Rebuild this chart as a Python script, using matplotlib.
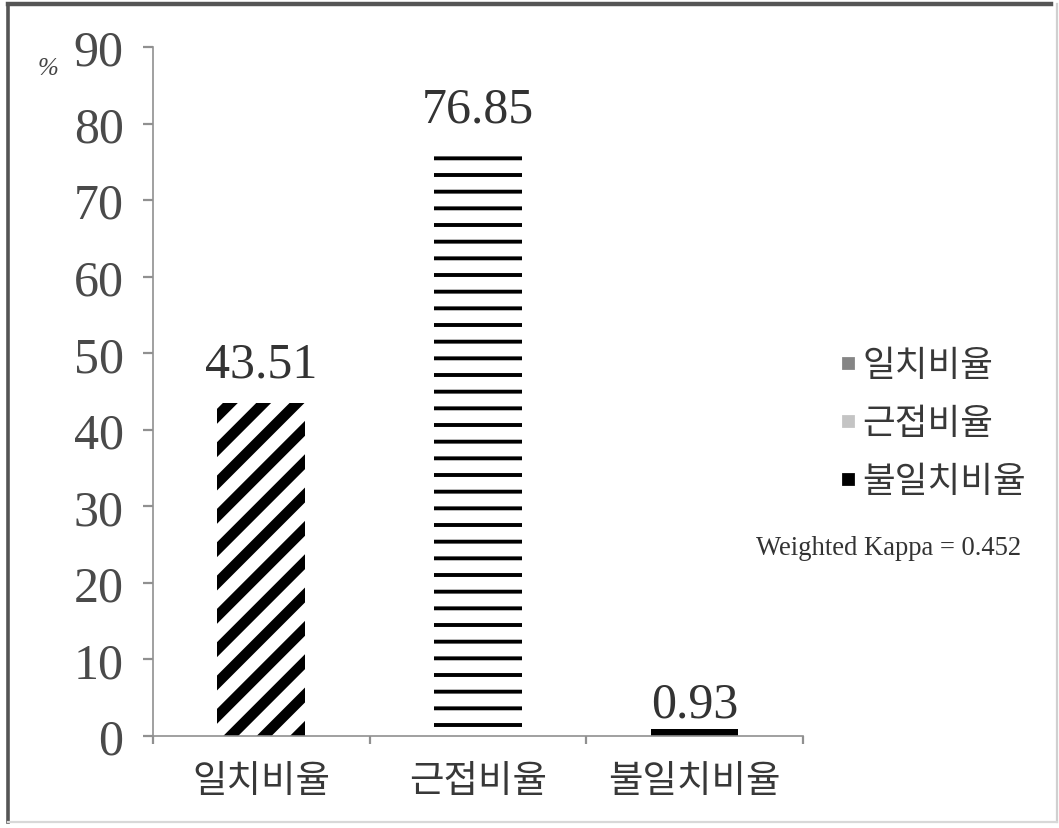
import matplotlib
matplotlib.use('Agg')
import matplotlib.pyplot as plt
from matplotlib.lines import Line2D

# 데이터
categories = ['일치비율', '근접비율', '불일치비율']
values = [43.51, 76.85, 0.93]
value_labels = ['43.51', '76.85', '0.93']
y_ticks = [0, 10, 20, 30, 40, 50, 60, 70, 80, 90]
legend_colors = ['#858585', '#c4c4c4', '#000000']
kappa_text = 'Weighted Kappa = 0.452'

kor = ['Noto Sans CJK KR', 'DejaVu Sans']
serif = ['Liberation Serif', 'DejaVu Serif']

fig = plt.figure(figsize=(1059 / 200, 829 / 200), dpi=200)
ax = fig.add_axes([0.1445, 0.111, 0.6135, 0.831])

hatches = ['//', '--', '']
hatch_lw = [3.8, 1.4, 1.0]
faces = ['white', 'white', 'black']
x = list(range(len(categories)))
for i in x:
    with plt.rc_context({'hatch.linewidth': hatch_lw[i]}):
        b = ax.bar(x[i], values[i], width=0.405, color=faces[i],
                   edgecolor='black', linewidth=0, hatch=hatches[i])
        for p in b:
            if hasattr(p, 'set_hatch_linewidth'):
                p.set_hatch_linewidth(hatch_lw[i])

label_pad = [5.5, 5.5, 0.5]
for i in x:
    ax.annotate(value_labels[i], (x[i], values[i]), xytext=(0, label_pad[i]),
                textcoords='offset points', ha='center', va='bottom',
                fontsize=18, family=serif, color='#333333')

ax.set_xlim(-0.5, 2.5)
ax.set_ylim(0, 90)
ax.set_yticks(y_ticks)
ax.set_yticklabels([str(t) for t in y_ticks], family=serif, fontsize=18,
                   color='#4a4a4a')
ax.set_xticks([-0.5, 0.5, 1.5, 2.5])
ax.set_xticklabels([])
ax.set_xticks(x, minor=True)
ax.set_xticklabels(categories, minor=True, family=kor, fontsize=13.5,
                   color='#383838')
ax.tick_params(axis='x', which='minor', length=0, pad=9)
ax.tick_params(axis='x', which='major', length=3.0, color='#909090')
ax.tick_params(axis='y', length=3.6, color='#909090', pad=7)

for s in ['top', 'right']:
    ax.spines[s].set_visible(False)
for s in ['left', 'bottom']:
    ax.spines[s].set_color('#909090')
    ax.spines[s].set_linewidth(0.6)

fig.text(0.045, 0.917, '%', family=serif, fontsize=9, color='#444444',
         ha='center', va='center', style='italic')

handles = [Line2D([], [], marker='s', linestyle='none', markersize=3.4,
                  markerfacecolor=c, markeredgecolor=c) for c in legend_colors]
leg = fig.legend(handles, categories, loc='center left',
                 bbox_to_anchor=(0.779, 0.488), frameon=False,
                 prop={'family': kor, 'size': 12.8}, handlelength=0.5,
                 handletextpad=0.15, labelspacing=0.62, borderaxespad=0)
for t in leg.get_texts():
    t.set_color('#383838')

fig.text(0.964, 0.338, kappa_text, family=serif, fontsize=9.6, color='#333333',
         ha='right', va='center')

# 바깥 테두리
fig.add_artist(Line2D([0.0075, 0.992], [0.994, 0.994], color='#555555', lw=1.6,
                      transform=fig.transFigure))
fig.add_artist(Line2D([0.0075, 0.0075], [0.994, 0.007], color='#555555', lw=1.3,
                      transform=fig.transFigure))
fig.add_artist(Line2D([0.998, 0.998], [0.994, 0.007], color='#d0d0d0', lw=0.8,
                      transform=fig.transFigure))
fig.add_artist(Line2D([0.0075, 0.998], [0.007, 0.007], color='#d8d8d8', lw=0.8,
                      transform=fig.transFigure))

fig.savefig('out.png', dpi=200)
